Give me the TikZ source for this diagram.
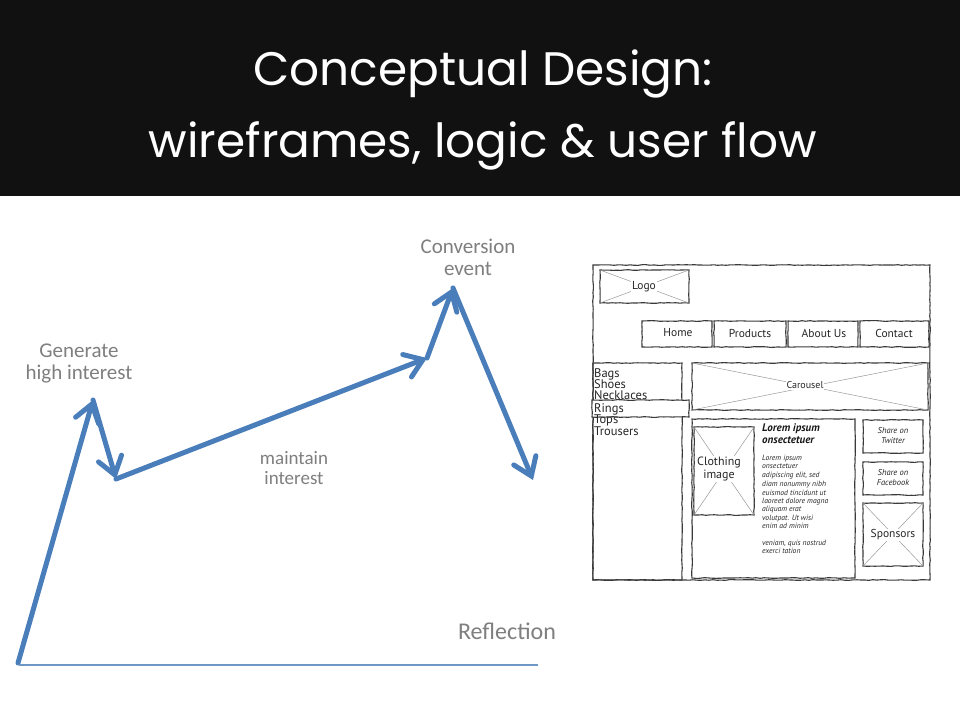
\documentclass[tikz,border=0pt]{standalone}
\usepackage{fontspec}
\setmainfont{Carlito}
\newfontfamily\titlefont{Poppins}
\newfontfamily\sketchfont{PT Sans}
\usetikzlibrary{arrows.meta,decorations.pathmorphing}
\definecolor{flowblue}{HTML}{4A7EBB}
\definecolor{basecol}{HTML}{6F97C6}
\definecolor{lblgray}{HTML}{7F7F7F}
\definecolor{wire}{HTML}{3A3A3A}
\definecolor{headbg}{HTML}{111111}
\tikzset{
  flow/.style={line width=5pt, draw=flowblue, line cap=round, line join=round,
    -{Straight Barb[length=17pt,width=24pt,line cap=round]}},
  baseln/.style={line width=1.3pt, draw=basecol},
  lbl/.style={text=lblgray, align=center, font=\fontsize{21}{22}\selectfont, inner sep=0pt},
  ttl/.style={text=white, font=\titlefont\fontsize{47}{50}\selectfont, inner sep=0pt, anchor=base},
  wf/.style={draw=wire, line width=1.1pt, decorate,
    decoration={random steps, segment length=4pt, amplitude=0.35pt}},
  wfx/.style={draw=black!40, line width=0.5pt},
  cat/.style={font=\sketchfont\fontsize{12.5}{12}\selectfont, text=black!85, anchor=base west,
    inner sep=0pt, text height=7pt, text depth=0.5pt},
  wtxt/.style={font=\sketchfont\fontsize{11.5}{11}\selectfont, text=black!85, inner sep=0pt, align=center},
  small/.style={font=\sketchfont\itshape\fontsize{7.6}{8.5}\selectfont, text=black!85, anchor=base west,
    inner sep=0pt, text height=5pt, text depth=0.5pt},
  boldt/.style={font=\sketchfont\bfseries\itshape\fontsize{11}{11}\selectfont, text=black!90, anchor=base west, inner sep=0pt},
  share/.style={font=\sketchfont\itshape\fontsize{8.5}{10}\selectfont, text=black!85, inner sep=0pt, align=center}
}
\begin{document}
\begin{tikzpicture}[x=1pt,y=-1pt]
\useasboundingbox (0,0) rectangle (960,720);
\fill[white] (0,0) rectangle (960,720);
% header
\fill[headbg] (0,0) rectangle (960,196);
\node[ttl] (t1) at (483,85) {Conceptual Design:};
\node[ttl] (t2) at (483,157) {wireframes, logic \& user flow};

% flow
\coordinate (p0) at (18,663);
\coordinate (p1) at (93,400);
\coordinate (p2) at (116,479);
\coordinate (p3) at (427,358);
\coordinate (p4) at (453,288);
\coordinate (p5) at (533,480);
\draw[flow] (p0) -- (p1);
\draw[flow] (p1) -- (p2);
\draw[flow] (p2) -- (p3);
\draw[flow] (p3) -- (p4);
\draw[flow] (p4) -- (p5);
\coordinate (b0) at (19,665);
\coordinate (b1) at (538,665);
\draw[baseln] (b0) -- (b1);

\node[lbl] (gen) at (79,363) {Generate\\high interest};
\node[lbl, font=\fontsize{19}{20}\selectfont] (mnt) at (294,468) {maintain\\interest};
\node[lbl] (conv) at (468,257) {Conversion\\event};
\node[lbl, font=\fontsize{24}{26}\selectfont] (refl) at (507,631) {Reflection};

% wireframe
\draw[wf] (593,265) rectangle (930,580);
\draw[wf] (600,270) rectangle (689,303);
\draw[wfx] (600,270) -- (689,303) (600,303) -- (689,270);
\node[wtxt, fill=white, inner sep=1pt] (logo) at (644,287) {Logo};

\draw[wf] (642,321) rectangle (712,347);
\draw[wf] (714,321) rectangle (786,347);
\draw[wf] (788,321) rectangle (858,347);
\draw[wf] (860,321) rectangle (929,347);
\node[wtxt] (home) at (678,333) {Home};
\node[wtxt] (prod) at (750,333) {Products};
\node[wtxt] (about) at (824,333) {About Us};
\node[wtxt] (cont) at (894,333) {Contact};

% left categories
\draw[wf] (593,363) rectangle (682,580);
\draw[wf, fill=white] (592,400) rectangle (689,417);
\node[cat] (bags) at (594,377) {Bags};
\node[cat] (shoes) at (594,388) {Shoes};
\node[cat] (neck) at (594,399) {Necklaces};
\node[cat] (rings) at (594,412) {Rings};
\node[cat] (tops) at (594,423) {Tops};
\node[cat] (trous) at (594,435) {Trousers};

% carousel
\draw[wf] (692,363) rectangle (928,410);
\draw[wfx] (692,363) -- (928,410) (692,410) -- (928,363);
\node[wtxt, fill=white, inner sep=1pt, font=\sketchfont\fontsize{10}{10}\selectfont] (car) at (805,385) {Carousel};

% main content
\draw[wf] (692,419) rectangle (855,578);
\draw[wf] (694,427) rectangle (754,515);
\draw[wfx] (694,427) -- (754,515) (754,427) -- (694,515);
\node[wtxt, fill=white, inner sep=1pt, font=\sketchfont\fontsize{12}{11}\selectfont] (cloth) at (719,469) {Clothing\\image};
\node[boldt] (lor1) at (762,431) {Lorem ipsum};
\node[boldt] (lor2) at (762,443) {onsectetuer};
\node[small] (s1) at (762,460) {Lorem ipsum};
\node[small] (s2) at (762,468) {onsectetuer};
\node[small] (s3) at (762,477) {adipiscing elit, sed};
\node[small] (s4) at (762,486) {diam nonummy nibh};
\node[small] (s5) at (762,495) {euismod tincidunt ut};
\node[small] (s6) at (762,503) {laoreet dolore magna};
\node[small] (s7) at (762,511) {aliquam erat};
\node[small] (s8) at (762,520) {volutpat. Ut wisi};
\node[small] (s9) at (762,528) {enim ad minim};
\node[small] (s10) at (762,545) {veniam, quis nostrud};
\node[small] (s11) at (762,553) {exerci tation};

% right column
\draw[wf] (863,420) rectangle (923,453);
\node[share] (tw) at (893,436) {Share on\\Twitter};
\draw[wf] (863,462) rectangle (923,495);
\node[share] (fb) at (893,478) {Share on\\Facebook};
\draw[wf] (863,503) rectangle (923,566);
\draw[wfx] (863,503) -- (923,566) (863,566) -- (923,503);
\node[wtxt, fill=white, inner sep=1pt, font=\sketchfont\fontsize{11.5}{11}\selectfont] (spon) at (893,535) {Sponsors};
\end{tikzpicture}
\end{document}
